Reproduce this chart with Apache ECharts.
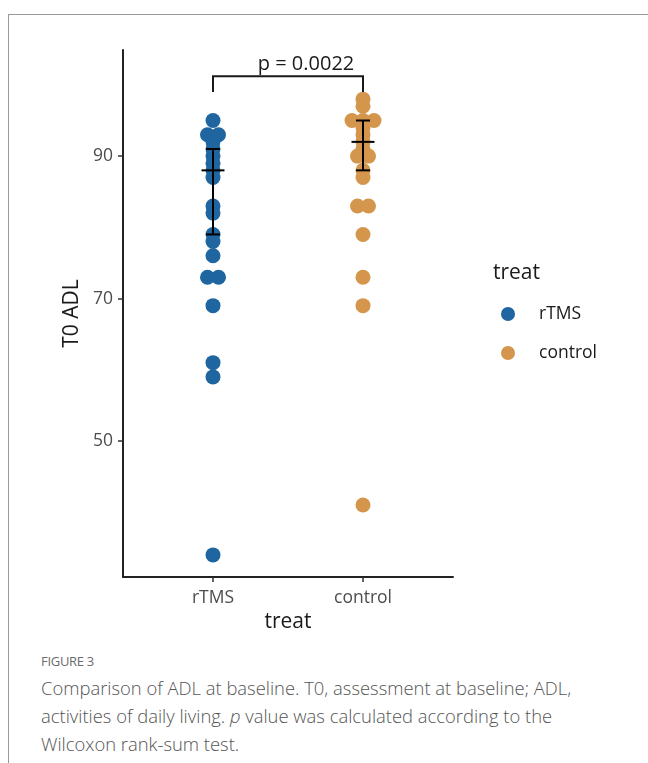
<!DOCTYPE html>
<html>
<head>
<meta charset="utf-8">
<script src="https://cdn.jsdelivr.net/npm/echarts@6/dist/echarts.min.js"></script>
<style>
  html, body { margin: 0; padding: 0; background: #fff; }
  #wrap { position: relative; width: 648px; height: 763px; overflow: hidden; }
  #frame { position: absolute; left: 8px; top: 14px; width: 660px; height: 760px;
           border-left: 1px solid #9a9a9a; border-top: 1px solid #9a9a9a; }
  #chart { position: absolute; left: 0; top: 0; width: 648px; height: 640px; }
  #figlabel { position: absolute; left: 41px; top: 652px; font-family: "Open Sans", sans-serif;
              font-size: 13px; color: #6b6b6b; letter-spacing: -0.3px; }
  #caption { position: absolute; left: 41px; top: 674px; width: 610px; font-family: "Open Sans", sans-serif;
             font-size: 18.4px; line-height: 28px; color: #555; font-weight: 300; white-space: nowrap; }
</style>
</head>
<body>
<div id="wrap">
  <div id="frame"></div>
  <div id="chart"></div>
  <div id="figlabel">FIGURE 3</div>
  <div id="caption">Comparison of ADL at baseline. T0, assessment at baseline; ADL,<br>activities of daily living. <i>p</i> value was calculated according to the<br>Wilcoxon rank-sum test.</div>
</div>
<script>
// ---- data ----
const categories = ['rTMS', 'control'];
const rtmsValues = [95, 93, 93, 92, 91, 90, 89, 88, 87, 83, 82, 79, 78, 76, 73, 73, 69, 61, 59, 34];
const controlValues = [98, 97, 95, 95, 95, 94, 93, 92, 91, 90, 90, 88, 87, 83, 83, 79, 73, 69, 41];
const medians = [88, 92];
const lowerQ = [79, 88];
const upperQ = [91, 95];
const yTicks = [50, 70, 90];
const pLabel = 'p = 0.0022';
const bracketY = 101.2;
const bracketTip = 99.0;

// ---- styling ----
const colors = ['#1f66a0', '#d4964c'];
const FONT = '"Open Sans", sans-serif';
const spread = 11; // px horizontal spacing for tied values

function swarm(values, catIndex) {
  const counts = {};
  values.forEach(v => counts[v] = (counts[v] || 0) + 1);
  const seen = {};
  return values.map(v => {
    const k = counts[v];
    const i = seen[v] = (seen[v] === undefined ? 0 : seen[v] + 1);
    const dx = (i - (k - 1) / 2) * spread;
    return { value: [catIndex + 1, v], symbolOffset: [dx, 0] };
  });
}

const statsData = categories.map((c, i) => [i + 1, lowerQ[i], medians[i], upperQ[i]]);

const chart = echarts.init(document.getElementById('chart'), null, { renderer: 'canvas' });
chart.setOption({
  animation: false,
  textStyle: { fontFamily: FONT },
  grid: { left: 123, top: 50, width: 330, height: 527 },
  title: {
    text: 'treat', left: 488, top: 258,
    textStyle: { fontFamily: FONT, fontSize: 21, fontWeight: 'normal', color: '#1a1a1a' }
  },
  legend: {
    orient: 'vertical', left: 496, top: 300, itemWidth: 52, itemHeight: 14, itemGap: 21,
    icon: 'circle',
    data: categories,
    textStyle: { fontFamily: FONT, fontSize: 17.5, color: '#1a1a1a' }
  },
  xAxis: {
    type: 'value', min: 0.4, max: 2.6,
    name: 'treat', nameLocation: 'middle', nameGap: 33,
    nameTextStyle: { fontFamily: FONT, fontSize: 21, color: '#1a1a1a' },
    axisLine: { show: true, lineStyle: { color: '#222', width: 2 } },
    axisTick: { show: true, customValues: [1, 2], length: 5, lineStyle: { color: '#333', width: 1.5 } },
    axisLabel: { customValues: [1, 2], margin: 12, fontSize: 17.5, color: '#4d4d4d', fontFamily: FONT,
                 formatter: v => categories[Math.round(v) - 1] || '' },
    splitLine: { show: false }
  },
  yAxis: {
    type: 'value', min: 30.9, max: 104.9,
    name: 'T0 ADL', nameLocation: 'middle', nameGap: 37, nameRotate: 90,
    nameTextStyle: { fontFamily: FONT, fontSize: 21, color: '#1a1a1a' },
    axisLine: { show: true, lineStyle: { color: '#222', width: 2 } },
    axisTick: { show: true, customValues: yTicks, length: 5, lineStyle: { color: '#333', width: 1.5 } },
    axisLabel: { customValues: yTicks, margin: 10, fontSize: 17.5, color: '#4d4d4d', fontFamily: FONT },
    splitLine: { show: false }
  },
  series: [
    {
      name: categories[0], type: 'scatter', symbolSize: 15,
      itemStyle: { color: colors[0], opacity: 1 },
      data: swarm(rtmsValues, 0), z: 2
    },
    {
      name: categories[1], type: 'scatter', symbolSize: 15,
      itemStyle: { color: colors[1], opacity: 1 },
      data: swarm(controlValues, 1), z: 2
    },
    {
      type: 'custom', z: 5, silent: true,
      data: statsData,
      renderItem: function (params, api) {
        const x = api.value(0);
        const lo = api.coord([x, api.value(1)]);
        const md = api.coord([x, api.value(2)]);
        const hi = api.coord([x, api.value(3)]);
        const st = { stroke: '#000', lineWidth: 2 };
        const cap = 7, bar = 11.5;
        return {
          type: 'group', children: [
            { type: 'line', shape: { x1: lo[0], y1: lo[1], x2: hi[0], y2: hi[1] }, style: st },
            { type: 'line', shape: { x1: lo[0] - cap, y1: lo[1], x2: lo[0] + cap, y2: lo[1] }, style: st },
            { type: 'line', shape: { x1: hi[0] - cap, y1: hi[1], x2: hi[0] + cap, y2: hi[1] }, style: st },
            { type: 'line', shape: { x1: md[0] - bar, y1: md[1], x2: md[0] + bar, y2: md[1] }, style: st }
          ]
        };
      }
    },
    {
      type: 'custom', z: 6, silent: true,
      data: [[1, 2, bracketY, bracketTip]],
      renderItem: function (params, api) {
        const a = api.coord([api.value(0), api.value(3)]);
        const b = api.coord([api.value(0), api.value(2)]);
        const c = api.coord([api.value(1), api.value(2)]);
        const d = api.coord([api.value(1), api.value(3)]);
        return {
          type: 'group', children: [
            { type: 'polyline', shape: { points: [a, b, c, d] }, style: { stroke: '#1a1a1a', lineWidth: 2, fill: null } },
            { type: 'text', x: (b[0] + c[0]) / 2 + 18, y: b[1] - 2,
              style: { text: pLabel, font: '20px ' + FONT, fill: '#1a1a1a', align: 'center', verticalAlign: 'bottom' } }
          ]
        };
      }
    }
  ]
});
</script>
</body>
</html>
